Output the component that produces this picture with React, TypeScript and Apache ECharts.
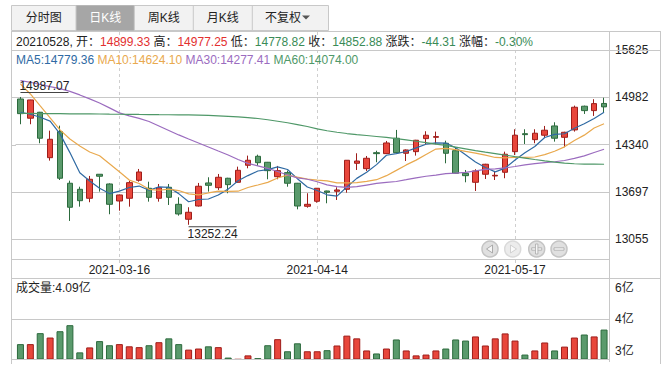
import React, { useEffect, useRef } from 'react';
import * as echarts from 'echarts';

const FONT = '"Liberation Sans", "Noto Sans CJK SC", sans-serif';

const dates = [
  '2021-03-02', '2021-03-03', '2021-03-04', '2021-03-05', '2021-03-08', '2021-03-09', '2021-03-10', '2021-03-11', '2021-03-12', '2021-03-15',
  '2021-03-16', '2021-03-17', '2021-03-18', '2021-03-19', '2021-03-22', '2021-03-23', '2021-03-24', '2021-03-25', '2021-03-26', '2021-03-29',
  '2021-03-30', '2021-03-31', '2021-04-01', '2021-04-02', '2021-04-06', '2021-04-07', '2021-04-08', '2021-04-09', '2021-04-12', '2021-04-13',
  '2021-04-14', '2021-04-15', '2021-04-16', '2021-04-19', '2021-04-20', '2021-04-21', '2021-04-22', '2021-04-23', '2021-04-26', '2021-04-27',
  '2021-04-28', '2021-04-29', '2021-04-30', '2021-05-06', '2021-05-07', '2021-05-10', '2021-05-11', '2021-05-12', '2021-05-13', '2021-05-14',
  '2021-05-17', '2021-05-18', '2021-05-19', '2021-05-20', '2021-05-21', '2021-05-24', '2021-05-25', '2021-05-26', '2021-05-27', '2021-05-28',
];

const opens = [
  14960, 14699, 14780, 14163, 14517, 13816, 13734, 13612, 13938, 13806,
  13575, 13612, 13856, 13748, 13612, 13761, 13530, 13327, 13507, 13820,
  13756, 13884, 13829, 14060, 14182, 14101, 13905, 13960, 13816, 13503,
  13571, 13711, 13707, 13734, 14087, 14014, 14231, 14218, 14427, 14223,
  14245, 14422, 14440, 14359, 14258, 13951, 13829, 13938, 13915, 13965,
  14245, 14489, 14408, 14468, 14594, 14440, 14540, 14862, 14802, 14899.33,
];

const closes = [
  14761, 14947, 14427, 14413, 13884, 13490, 13579, 13870, 13911, 13530,
  13657, 13824, 13969, 13625, 13756, 13625, 13399, 13422, 13775, 13788,
  13897, 13797, 13992, 14128, 14095, 13987, 13987, 13816, 13507, 13530,
  13748, 13693, 13725, 14128, 14118, 14155, 14218, 14363, 14231, 14268,
  14400, 14468, 14449, 14223, 13951, 13919, 13983, 14074, 13924, 14210,
  14468, 14476, 14495, 14536, 14427, 14508, 14848, 14802, 14897.19, 14852.88,
];

const lows = [
  14617, 14617, 14359, 14123, 13860, 13304, 13498, 13558, 13702, 13395,
  13443, 13498, 13837, 13566, 13566, 13521, 13376, 13252.24, 13500, 13702,
  13725, 13680, 13825, 14019, 14051, 13870, 13870, 13769, 13462, 13484,
  13552, 13544, 13589, 13688, 13996, 13983, 14101, 14215, 14225, 14118,
  14191, 14345, 14345, 14087, 13945, 13829, 13711, 13874, 13860, 13884,
  14200, 14349, 14359, 14435, 14381, 14305, 14517, 14757, 14730, 14778.82,
];

const highs = [
  14987.07, 14950, 14785, 14530, 14598, 13851, 13769, 13915, 13940, 13815,
  13660, 13847, 14010, 13837, 13806, 13806, 13625, 13490, 13820, 13897,
  13942, 13890, 14041, 14191, 14204, 14105, 14051, 13987, 13820, 13680,
  13750, 13715, 13761, 14130, 14223, 14186, 14258, 14390, 14540, 14275,
  14405, 14522, 14517, 14394, 14299, 13996, 14006, 14080, 13983, 14245,
  14549, 14549, 14549, 14594, 14644, 14515, 14870, 14870, 14957, 14977.25,
];

// volume in 亿
const volumes = [
  3.56, 3.56, 3.96, 3.80, 4.03, 4.25, 3.26, 3.44, 3.67, 3.52,
  3.56, 3.48, 3.45, 3.52, 3.63, 3.77, 3.56, 3.36, 3.40, 3.48,
  3.45, 3.07, 3.01, 3.15, 3.05, 3.52, 3.74, 3.30, 3.59, 3.30,
  3.30, 3.34, 3.51, 3.87, 3.77, 3.33, 3.22, 3.40, 3.73, 3.33,
  3.15, 3.18, 3.33, 3.40, 3.73, 3.69, 3.84, 3.51, 3.77, 3.95,
  3.69, 3.18, 3.33, 3.62, 3.33, 3.47, 3.80, 3.91, 3.84, 4.09,
];

const ma5 = [
  14780, 14753, 14712, 14660, 14486, 14232, 13959, 13847, 13747, 13676,
  13709, 13758, 13778, 13721, 13766, 13760, 13675, 13565, 13595, 13602,
  13656, 13736, 13850, 13920, 13982, 14000, 14038, 14003, 13878, 13765,
  13718, 13659, 13641, 13765, 13882, 13964, 14069, 14196, 14217, 14247,
  14296, 14346, 14363, 14362, 14298, 14202, 14105, 14030, 13970, 14022,
  14132, 14230, 14315, 14437, 14480, 14488, 14563, 14624, 14696, 14779.36,
];

const ma10 = [
  15164, 15028, 14865, 14703, 14540, 14416, 14321, 14241, 14190, 14081,
  13971, 13859, 13813, 13734, 13721, 13735, 13717, 13672, 13658, 13684,
  13708, 13705, 13708, 13758, 13792, 13828, 13887, 13926, 13899, 13874,
  13859, 13848, 13822, 13822, 13824, 13841, 13864, 13919, 13991, 14065,
  14130, 14207, 14280, 14289, 14273, 14249, 14226, 14197, 14166, 14160,
  14167, 14168, 14172, 14204, 14251, 14310, 14397, 14469, 14567, 14624.10,
];

const ma30 = [
  15210, 15187, 15157, 15128, 15101, 15063, 15015, 14961, 14906, 14839,
  14771, 14730, 14696, 14655, 14594, 14533, 14472, 14417, 14363, 14309,
  14254, 14200, 14139, 14085, 14051, 14017, 13976, 13928, 13888, 13870,
  13836, 13794, 13771, 13761, 13769, 13791, 13813, 13829, 13840, 13864,
  13889, 13911, 13927, 13947, 13953, 13963, 13983, 14005, 14010, 14024,
  14043, 14066, 14083, 14097, 14108, 14125, 14154, 14187, 14233, 14277.41,
];

const ma60 = [
  14764, 14764, 14762, 14761, 14760, 14758, 14757, 14757, 14756, 14754,
  14753, 14752, 14750, 14749, 14747, 14746, 14745, 14743, 14741, 14737,
  14731, 14724, 14716, 14707, 14695, 14678, 14658, 14637, 14613, 14586,
  14555, 14529, 14508, 14491, 14477, 14464, 14451, 14438, 14423, 14405,
  14386, 14367, 14348, 14329, 14306, 14283, 14260, 14239, 14219, 14199,
  14178, 14158, 14138, 14119, 14102, 14089, 14081, 14076, 14075, 14074.00,
];

const priceTicks = [13055, 13697.5, 14340, 14982.5, 15625];
const volumeLabelTicks = [3.3, 4.475, 5.6];
const volumeGridTicks = [4.475];
const markedDateIndexes = [10, 30, 50];
const tabNames = ['分时图', '日K线', '周K线', '月K线', '不复权'];

const RED = '#e8463b';
const RED_DARK = '#9e1d1a';
const GREEN = '#5a9a6c';
const GREEN_DARK = '#2c6a3d';
const TXT_RED = '#e3302f';
const TXT_GREEN = '#3a8b57';
const MA_COLORS = ['#2f6aa3', '#e9a94e', '#9b6cbf', '#4f9868'];
const GRID_LINE = '#c8c8c8';

function buildOption() {
  const last = dates.length - 1;
  const prevClose = closes[last - 1];
  const change = closes[last] - prevClose;
  const pct = (change / prevClose) * 100;
  const col = (v: number) => (v >= prevClose ? 'r' : 'g');
  const infoText =
    `{k|${dates[last].replace(/-/g, '')}, 开：}{${col(opens[last])}|${opens[last].toFixed(2)}}` +
    `{k| 高：}{${col(highs[last])}|${highs[last].toFixed(2)}}` +
    `{k| 低：}{${col(lows[last])}|${lows[last].toFixed(2)}}` +
    `{k| 收：}{${col(closes[last])}|${closes[last].toFixed(2)}}` +
    `{k| 涨跌：}{${change >= 0 ? 'r' : 'g'}|${change.toFixed(2)}}` +
    `{k| 涨幅：}{${change >= 0 ? 'r' : 'g'}|${pct.toFixed(2)}%}`;
  const maText =
    `{a|MA5:${ma5[last].toFixed(2)}} {b|MA10:${ma10[last].toFixed(2)}} ` +
    `{c|MA30:${ma30[last].toFixed(2)}} {d|MA60:${ma60[last].toFixed(2)}}`;

  let maxIdx = 0;
  let minIdx = 0;
  highs.forEach((h, i) => { if (h > highs[maxIdx]) maxIdx = i; });
  lows.forEach((l, i) => { if (l < lows[minIdx]) minIdx = i; });

  const isUp = (i: number) => closes[i] >= opens[i];
  const labelInterval = (i: number) => markedDateIndexes.indexOf(i) >= 0;

  const line = (x1: number, y1: number, x2: number, y2: number, color = GRID_LINE) => ({
    type: 'line', silent: true, z: 50,
    shape: { x1, y1, x2, y2 },
    style: { stroke: color, lineWidth: 1 },
  });

  const tabX = [11.5, 76, 134.3, 193.3, 252.3, 328.5];
  const tabGraphics: any[] = [
    { type: 'rect', shape: { x: 11.5, y: 5.5, width: 317, height: 25 }, style: { fill: '#f2f2f2', stroke: GRID_LINE, lineWidth: 1 } },
    { type: 'rect', shape: { x: 76, y: 5.5, width: 58.3, height: 25 }, style: { fill: '#a6a6a6' } },
  ];
  for (let i = 1; i < 5; i++) tabGraphics.push(line(tabX[i], 5.5, tabX[i], 30.5));
  tabNames.forEach((t, i) => {
    const cx = i === 4 ? 283 : (tabX[i] + tabX[i + 1]) / 2;
    tabGraphics.push({
      type: 'text', x: cx, y: 18,
      style: { text: t, font: `12px ${FONT}`, fill: i === 1 ? '#ffffff' : '#222222', align: 'center', verticalAlign: 'middle' },
    });
  });
  tabGraphics.push({ type: 'polygon', shape: { points: [[302, 15.5], [310, 15.5], [306, 19.5]] }, style: { fill: '#555' } });

  const navX = [490, 512.7, 536.7, 559];
  const navY = 249;
  const navGraphics: any[] = [];
  navX.forEach((x, i) => {
    navGraphics.push({ type: 'circle', shape: { cx: x, cy: navY, r: 8 }, style: { fill: i === 1 ? '#ececec' : '#e0e0e0', stroke: i === 1 ? '#dadada' : '#c4c4c4', lineWidth: 1.5 } });
  });
  navGraphics.push({ type: 'polygon', shape: { points: [[492.5, 245], [492.5, 253], [486.5, 249]] }, style: { fill: '#f6f6f6', stroke: '#aaa', lineWidth: 1 } });
  navGraphics.push({ type: 'polygon', shape: { points: [[510.5, 245], [510.5, 253], [516.5, 249]] }, style: { fill: '#fafafa', stroke: '#d0d0d0', lineWidth: 1 } });
  navGraphics.push({ type: 'rect', shape: { x: 531.7, y: 247.8, width: 10, height: 2.4 }, style: { fill: '#f6f6f6', stroke: '#aaa', lineWidth: 0.8 } });
  navGraphics.push({ type: 'rect', shape: { x: 535.5, y: 244, width: 2.4, height: 10 }, style: { fill: '#f6f6f6', stroke: '#aaa', lineWidth: 0.8 } });
  navGraphics.push({ type: 'rect', shape: { x: 554, y: 247.8, width: 10, height: 2.4 }, style: { fill: '#f6f6f6', stroke: '#aaa', lineWidth: 0.8 } });

  const frame = [
    line(11, 31.5, 661, 31.5),
    line(11.5, 31, 11.5, 364),
    line(660.5, 31, 660.5, 364),
    line(609.5, 31, 609.5, 362),
    line(11, 50.5, 661, 50.5),
    line(11, 259.5, 610, 259.5),
    line(11, 278.5, 661, 278.5),
    line(11, 359.5, 610, 359.5),
  ];

  const texts = [
    { type: 'text', x: 16, y: 42, z: 60, style: { text: infoText, font: `12px ${FONT}`, verticalAlign: 'middle',
      rich: { k: { fill: '#222', font: `12px ${FONT}` }, r: { fill: TXT_RED, font: `12px ${FONT}` }, g: { fill: TXT_GREEN, font: `12px ${FONT}` } } } },
    { type: 'text', x: 16, y: 60, z: 60, style: { text: maText, font: `12px ${FONT}`, verticalAlign: 'middle',
      rich: { a: { fill: MA_COLORS[0], font: `12px ${FONT}` }, b: { fill: MA_COLORS[1], font: `12px ${FONT}` }, c: { fill: MA_COLORS[2], font: `12px ${FONT}` }, d: { fill: MA_COLORS[3], font: `12px ${FONT}` } } } },
    { type: 'text', x: 16, y: 288, z: 60, style: { text: `成交量:${volumes[last].toFixed(2)}亿`, font: `12px ${FONT}`, fill: '#222', verticalAlign: 'middle' } },
  ];

  const maSeries = [ma5, ma10, ma30, ma60].map((d, i) => ({
    type: 'line', name: ['MA5', 'MA10', 'MA30', 'MA60'][i], data: d, xAxisIndex: 0, yAxisIndex: 0,
    showSymbol: false, symbol: 'none', smooth: false,
    lineStyle: { color: MA_COLORS[i], width: 1.2 }, itemStyle: { color: MA_COLORS[i] }, z: 3,
  }));

  return {
    animation: false,
    backgroundColor: '#ffffff',
    textStyle: { fontFamily: FONT },
    grid: [
      { left: 15.5, right: 58, top: 31, height: 228 },
      { left: 15.5, right: 58, top: 278.5, height: 81 },
    ],
    xAxis: [
      {
        type: 'category', data: dates, gridIndex: 0, boundaryGap: true,
        axisLine: { show: false },
        axisTick: { show: true, alignWithLabel: true, interval: labelInterval, length: 4, lineStyle: { color: '#cccccc' } },
        axisLabel: { interval: labelInterval, color: '#222', fontSize: 12, fontFamily: FONT, margin: 5 },
        splitLine: { show: false },
      },
      {
        type: 'category', data: dates, gridIndex: 1, boundaryGap: true,
        axisLine: { show: false }, axisTick: { show: false }, axisLabel: { show: false }, splitLine: { show: false },
      },
    ],
    yAxis: [
      {
        type: 'value', gridIndex: 0, position: 'right', min: 12787.4, max: 15883.1,
        axisLine: { show: false },
        axisTick: { show: false, customValues: priceTicks },
        axisLabel: { customValues: priceTicks, formatter: (v: number) => String(Math.floor(v + 1e-6)), color: '#222', fontSize: 12, fontFamily: FONT, margin: 6 },
        splitLine: { show: true, lineStyle: { color: GRID_LINE, width: 1 } },
      },
      {
        type: 'value', gridIndex: 1, position: 'right', min: 3.0, max: 5.95, startValue: 3.0,
        axisLine: { show: false },
        axisTick: { show: false, customValues: volumeGridTicks },
        axisLabel: { customValues: volumeLabelTicks, formatter: (v: number) => `${Math.round(v)}亿`, color: '#222', fontSize: 12, fontFamily: FONT, margin: 6 },
        splitLine: { show: true, lineStyle: { color: GRID_LINE, width: 1 } },
      },
    ],
    series: [
      {
        type: 'candlestick', name: 'K', xAxisIndex: 0, yAxisIndex: 0, barWidth: 6,
        data: dates.map((_, i) => [opens[i], closes[i], lows[i], highs[i]]),
        itemStyle: { color: RED, color0: GREEN, borderColor: RED_DARK, borderColor0: GREEN_DARK, borderWidth: 1 },
        markPoint: {
          silent: true, symbol: 'rect', symbolSize: [48, 1],
          itemStyle: { color: '#444' },
          label: { show: true, position: 'inside', color: '#222', fontSize: 12, fontFamily: FONT, formatter: (p: any) => Number(p.value).toFixed(2) },
          data: [
            { coord: [dates[maxIdx], highs[maxIdx]], value: highs[maxIdx], symbolOffset: [24, -4.5], label: { offset: [0, -6.5] } },
            { coord: [dates[minIdx], lows[minIdx]], value: lows[minIdx], symbolOffset: [24, 2], label: { offset: [0, 7] } },
          ],
        },
        z: 2,
      },
      ...maSeries,
      {
        type: 'bar', name: '成交量', xAxisIndex: 1, yAxisIndex: 1, barWidth: 7,
        data: volumes.map((v, i) => ({
          value: v,
          itemStyle: { color: isUp(i) ? RED : GREEN, borderColor: isUp(i) ? RED_DARK : GREEN_DARK, borderWidth: 1 },
        })),
      },
    ],
    graphic: [...tabGraphics, ...frame, ...texts, ...navGraphics],
  };
}

export default function App() {
  const ref = useRef<HTMLDivElement>(null);
  useEffect(() => {
    if (!ref.current) return;
    const chart = echarts.init(ref.current, null, { renderer: 'svg' });
    const option: any = buildOption();
    chart.setOption(option);
    // extend horizontal price grid lines to the left frame edge
    const stubs = priceTicks.map((v) => {
      const y = Math.round(chart.convertToPixel({ yAxisIndex: 0 }, v) as number) + 0.5;
      return { type: 'line', silent: true, z: 1, shape: { x1: 11, y1: y, x2: 16, y2: y }, style: { stroke: GRID_LINE, lineWidth: 1 } };
    });
    const volStubs = volumeGridTicks.map((v) => {
      const y = Math.round(chart.convertToPixel({ yAxisIndex: 1 }, v) as number) + 0.5;
      return { type: 'line', silent: true, z: 1, shape: { x1: 11, y1: y, x2: 16, y2: y }, style: { stroke: GRID_LINE, lineWidth: 1 } };
    });
    // dashed vertical guides at the labelled dates, placed by the category axis
    const guides = markedDateIndexes.map((i) => {
      const x = Math.round(chart.convertToPixel({ xAxisIndex: 0 }, dates[i]) as number) + 0.5;
      return { type: 'line', silent: true, z: -1, shape: { x1: x, y1: 32, x2: x, y2: 259 }, style: { stroke: '#cfcfcf', lineWidth: 1, lineDash: [3, 3] } };
    });
    chart.setOption({ graphic: [...guides, ...option.graphic, ...stubs, ...volStubs] }, { replaceMerge: ['graphic'] });
    return () => chart.dispose();
  }, []);
  return <div ref={ref} style={{ position: 'absolute', left: 0, top: 0, width: 667, height: 370 }} />;
}
